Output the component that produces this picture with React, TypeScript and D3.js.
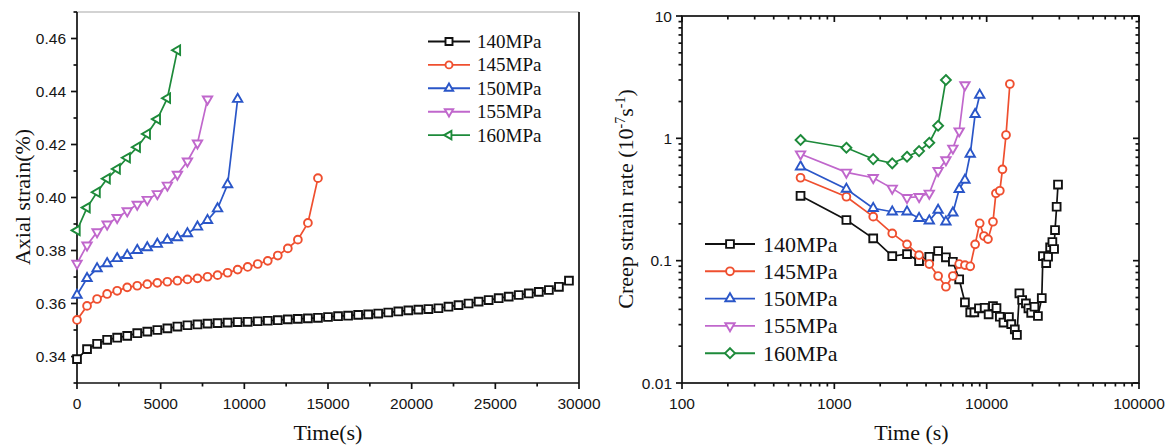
import React from 'react';
import * as d3 from 'd3';

// ---------- Left chart: axial strain vs time ----------
const TIME_S = [0, 600, 1200, 1800, 2400, 3000, 3600, 4200, 4800, 5400, 6000, 6600, 7200, 7800, 8400, 9000, 9600, 10200, 10800, 11400, 12000, 12600, 13200, 13800, 14400, 15000, 15600, 16200, 16800, 17400, 18000, 18600, 19200, 19800, 20400, 21000, 21600, 22200, 22800, 23400, 24000, 24600, 25200, 25800, 26400, 27000, 27600, 28200, 28800, 29400];

const strain140 = [0.3390, 0.3428, 0.3448, 0.3463, 0.3471, 0.3478, 0.3488, 0.3494, 0.3500, 0.3506, 0.3513, 0.3518, 0.3521, 0.3524, 0.3526, 0.3528, 0.3530, 0.3531, 0.3533, 0.3535, 0.3537, 0.3540, 0.3542, 0.3544, 0.3546, 0.3549, 0.3552, 0.3554, 0.3557, 0.3559, 0.3562, 0.3566, 0.3570, 0.3574, 0.3577, 0.3579, 0.3582, 0.3588, 0.3594, 0.3600, 0.3607, 0.3613, 0.3620, 0.3626, 0.3632, 0.3638, 0.3644, 0.3651, 0.3663, 0.3686];
const strain145 = [0.3538, 0.3591, 0.3617, 0.3636, 0.3648, 0.3661, 0.3667, 0.3673, 0.3678, 0.3682, 0.3686, 0.3691, 0.3695, 0.3701, 0.3707, 0.3716, 0.3728, 0.3738, 0.3749, 0.3761, 0.3781, 0.3808, 0.3841, 0.3904, 0.4073];
const strain150 = [0.3632, 0.3695, 0.3732, 0.3751, 0.3770, 0.3782, 0.3801, 0.3811, 0.3824, 0.3839, 0.3849, 0.3864, 0.3889, 0.3914, 0.3958, 0.4049, 0.4371];
const strain155 = [0.3751, 0.3820, 0.3870, 0.3899, 0.3924, 0.3949, 0.3974, 0.3992, 0.4014, 0.4046, 0.4087, 0.4137, 0.4205, 0.4371];
const strain160 = [0.3876, 0.3962, 0.4020, 0.4071, 0.4108, 0.4150, 0.4190, 0.4240, 0.4296, 0.4375, 0.4556];

// ---------- Right chart: creep strain rate vs time (log-log) ----------
const rateTime140 = [600, 1200, 1800, 2400, 3000, 3600, 4200, 4800, 5400, 6000, 6600, 7200, 7800, 8300, 8900, 9700, 10300, 11000, 11600, 12200, 12900, 14000, 14500, 15300, 15800, 16400, 17100, 18100, 18800, 19600, 20600, 21700, 23000, 23400, 24600, 25300, 26100, 27000, 27700, 28100, 28800, 29400];
const rate140 = [0.339, 0.215, 0.152, 0.109, 0.113, 0.0993, 0.1077, 0.120, 0.1065, 0.098, 0.0704, 0.0456, 0.0378, 0.0378, 0.0408, 0.0412, 0.0364, 0.0426, 0.0410, 0.0348, 0.0312, 0.0346, 0.0303, 0.0274, 0.0247, 0.0541, 0.0477, 0.0448, 0.0408, 0.0375, 0.0420, 0.0353, 0.0495, 0.109, 0.0956, 0.1077, 0.1285, 0.142, 0.1245, 0.178, 0.276, 0.419];
const rateTime145 = [600, 1200, 1800, 2400, 3000, 3600, 4200, 4800, 5400, 6000, 6600, 7200, 7800, 8400, 9000, 9600, 10200, 11000, 11500, 12200, 12700, 13400, 14200];
const rate145 = [0.476, 0.333, 0.229, 0.167, 0.136, 0.111, 0.0938, 0.0749, 0.0612, 0.0749, 0.0938, 0.092, 0.0899, 0.136, 0.202, 0.159, 0.150, 0.208, 0.355, 0.373, 0.558, 1.064, 2.78];
const rateTime150 = [600, 1200, 1800, 2400, 3000, 3600, 4200, 4800, 5400, 6000, 6600, 7200, 7800, 8400, 9000];
const rate150 = [0.586, 0.385, 0.268, 0.251, 0.251, 0.222, 0.212, 0.259, 0.208, 0.246, 0.383, 0.456, 0.744, 1.571, 2.26];
const rateTime155 = [600, 1200, 1800, 2400, 3000, 3600, 4200, 4800, 5400, 6000, 6600, 7200];
const rate155 = [0.744, 0.527, 0.476, 0.390, 0.327, 0.333, 0.355, 0.543, 0.665, 0.829, 1.147, 2.73];
const rateTime160 = [600, 1200, 1800, 2400, 3000, 3600, 4200, 4800, 5400];
const rate160 = [0.969, 0.838, 0.677, 0.625, 0.707, 0.787, 0.92, 1.268, 3.0];

const LABELS = ['140MPa', '145MPa', '150MPa', '155MPa', '160MPa'];
const COLORS = ['#111111', '#ef4f2f', '#2a56c8', '#c067cc', '#1d8a3a'];

const leftXTicks = [0, 5000, 10000, 15000, 20000, 25000, 30000];
const leftYTicks = [0.34, 0.36, 0.38, 0.40, 0.42, 0.44, 0.46];
const leftYTickLabels = ['0.34', '0.36', '0.38', '0.40', '0.42', '0.44', '0.46'];
const rightXTicks = [100, 1000, 10000, 100000];
const rightXTickLabels = ['100', '1000', '10000', '100000'];
const rightYTicks = [0.01, 0.1, 1, 10];
const rightYTickLabels = ['0.01', '0.1', '1', '10'];

type Shape = 'square' | 'circle' | 'up' | 'down' | 'left' | 'diamond';

const SANS = '"Liberation Sans", Arial, sans-serif';
const SERIF = '"Liberation Serif", "Times New Roman", serif';

function Marker({ shape, x, y, s, color }: { shape: Shape; x: number; y: number; s: number; color: string }) {
  const common = { fill: '#fff', stroke: color, strokeWidth: 1.9 };
  if (shape === 'circle') return <circle cx={x} cy={y} r={s / 2} {...common} />;
  let d = '';
  const h = s / 2;
  if (shape === 'square') {
    d = `M${-h},${-h}H${h}V${h}H${-h}Z`;
  } else if (shape === 'diamond') {
    const r = s * 0.64;
    d = `M0,${-r}L${r},0L0,${r}L${-r},0Z`;
  } else {
    const w = s * 1.2;
    const ht = w * 0.866;
    const pts: [number, number][] = [[0, (-2 * ht) / 3], [w / 2, ht / 3], [-w / 2, ht / 3]];
    let p = pts;
    if (shape === 'down') p = pts.map(([a, b]) => [a, -b] as [number, number]);
    if (shape === 'left') p = pts.map(([a, b]) => [b, a] as [number, number]);
    d = `M${p[0][0]},${p[0][1]}L${p[1][0]},${p[1][1]}L${p[2][0]},${p[2][1]}Z`;
  }
  return <path d={d} transform={`translate(${x},${y})`} {...common} />;
}

export default function App() {
  const xL = d3.scaleLinear().domain([0, 30000]).range([77, 579]);
  const yL = d3.scaleLinear().domain([0.33, 0.47]).range([383, 12]);
  const xR = d3.scaleLog().domain([100, 100000]).range([682, 1139]);
  const yR = d3.scaleLog().domain([0.01, 10]).range([383, 16]);

  const leftSeries = [
    { vals: strain140, shape: 'square' as Shape },
    { vals: strain145, shape: 'circle' as Shape },
    { vals: strain150, shape: 'up' as Shape },
    { vals: strain155, shape: 'down' as Shape },
    { vals: strain160, shape: 'left' as Shape },
  ];
  const rightSeries = [
    { t: rateTime140, v: rate140, shape: 'square' as Shape },
    { t: rateTime145, v: rate145, shape: 'circle' as Shape },
    { t: rateTime150, v: rate150, shape: 'up' as Shape },
    { t: rateTime155, v: rate155, shape: 'down' as Shape },
    { t: rateTime160, v: rate160, shape: 'diamond' as Shape },
  ];

  const lineL = d3.line<[number, number]>().x((d) => xL(d[0])).y((d) => yL(d[1]));
  const lineR = d3.line<[number, number]>().x((d) => xR(d[0])).y((d) => yR(d[1]));

  const leftXMinor = d3.range(2500, 30000, 5000);
  const leftYMinor = [0.33, 0.35, 0.37, 0.39, 0.41, 0.43, 0.45, 0.47];
  const rightXMinor: number[] = [];
  [100, 1000, 10000].forEach((b) => { for (let k = 2; k <= 9; k++) rightXMinor.push(b * k); });
  const rightYMinor: number[] = [];
  [0.01, 0.1, 1].forEach((b) => { for (let k = 2; k <= 9; k++) rightYMinor.push(b * k); });

  const axisW = 1.7;
  const tickColor = '#151515';

  return (
    <svg width={1170} height={447} style={{ position: 'absolute', left: 0, top: 0, background: '#fff' }}>
      {/* ================= LEFT CHART ================= */}
      <g>
        <line x1={77} y1={12} x2={579} y2={12} stroke="#c4c4c4" strokeWidth={1.5} />
        <line x1={579} y1={12} x2={579} y2={383} stroke="#111" strokeWidth={axisW} />
        <line x1={77} y1={12} x2={77} y2={383} stroke="#111" strokeWidth={axisW} />
        <line x1={77} y1={383} x2={579} y2={383} stroke="#111" strokeWidth={axisW} />
        {leftXTicks.map((t) => (
          <g key={'lx' + t}>
            <line x1={xL(t)} x2={xL(t)} y1={383} y2={389} stroke="#111" strokeWidth={axisW} />
            <text x={xL(t)} y={408.5} textAnchor="middle" fontFamily={SANS} fontSize={15.5} fill={tickColor}>{t}</text>
          </g>
        ))}
        {leftXMinor.map((t) => (
          <line key={'lxm' + t} x1={xL(t)} x2={xL(t)} y1={383} y2={386.5} stroke="#111" strokeWidth={axisW} />
        ))}
        {leftYTicks.map((v, i) => (
          <g key={'ly' + v}>
            <line x1={71} x2={77} y1={yL(v)} y2={yL(v)} stroke="#111" strokeWidth={axisW} />
            <text x={66} y={yL(v) + 5.8} textAnchor="end" fontFamily={SANS} fontSize={15.5} fill={tickColor}>{leftYTickLabels[i]}</text>
          </g>
        ))}
        {leftYMinor.map((v) => (
          <line key={'lym' + v} x1={73.5} x2={77} y1={yL(v)} y2={yL(v)} stroke="#111" strokeWidth={axisW} />
        ))}
        <text transform="translate(30,197) rotate(-90)" textAnchor="middle" fontFamily={SERIF} fontSize={22} fill="#111">Axial strain(%)</text>
        <text x={328} y={440} textAnchor="middle" fontFamily={SERIF} fontSize={22} fill="#111">Time(s)</text>
        {leftSeries.map((s, si) => {
          const pts = s.vals.map((v, i) => [TIME_S[i], v] as [number, number]);
          return (
            <g key={'ls' + si}>
              <path d={lineL(pts) || ''} fill="none" stroke={COLORS[si]} strokeWidth={1.7} />
              {pts.map((p, i) => (
                <Marker key={i} shape={s.shape} x={xL(p[0])} y={yL(p[1])} s={7.8} color={COLORS[si]} />
              ))}
            </g>
          );
        })}
        {LABELS.map((lab, i) => {
          const cy = 41.5 + i * 23.4;
          return (
            <g key={'ll' + lab}>
              <line x1={428} x2={470} y1={cy} y2={cy} stroke={COLORS[i]} strokeWidth={1.9} />
              <Marker shape={leftSeries[i].shape} x={449} y={cy} s={7} color={COLORS[i]} />
              <text x={477} y={cy + 6.5} fontFamily={SERIF} fontSize={19} fill="#111">{lab}</text>
            </g>
          );
        })}
      </g>

      {/* ================= RIGHT CHART ================= */}
      <g>
        <rect x={682} y={16} width={1139 - 682} height={383 - 16} fill="none" stroke="#111" strokeWidth={axisW} />
        {rightXTicks.map((t, i) => (
          <g key={'rx' + t}>
            <line x1={xR(t)} x2={xR(t)} y1={383} y2={389} stroke="#111" strokeWidth={axisW} />
            <line x1={xR(t)} x2={xR(t)} y1={16} y2={22} stroke="#111" strokeWidth={axisW} />
            <text x={xR(t)} y={408.5} textAnchor="middle" fontFamily={SANS} fontSize={15.5} fill={tickColor}>{rightXTickLabels[i]}</text>
          </g>
        ))}
        {rightXMinor.map((t) => (
          <g key={'rxm' + t}>
            <line x1={xR(t)} x2={xR(t)} y1={383} y2={386.5} stroke="#111" strokeWidth={axisW} />
            <line x1={xR(t)} x2={xR(t)} y1={16} y2={19.5} stroke="#111" strokeWidth={axisW} />
          </g>
        ))}
        {rightYTicks.map((v, i) => (
          <g key={'ry' + v}>
            <line x1={676} x2={682} y1={yR(v)} y2={yR(v)} stroke="#111" strokeWidth={axisW} />
            <line x1={1133} x2={1139} y1={yR(v)} y2={yR(v)} stroke="#111" strokeWidth={axisW} />
            <text x={672} y={yR(v) + 5.8} textAnchor="end" fontFamily={SANS} fontSize={15.5} fill={tickColor}>{rightYTickLabels[i]}</text>
          </g>
        ))}
        {rightYMinor.map((v) => (
          <g key={'rym' + v}>
            <line x1={678.5} x2={682} y1={yR(v)} y2={yR(v)} stroke="#111" strokeWidth={axisW} />
            <line x1={1135.5} x2={1139} y1={yR(v)} y2={yR(v)} stroke="#111" strokeWidth={axisW} />
          </g>
        ))}
        <text transform="translate(633,199) rotate(-90)" textAnchor="middle" fontFamily={SERIF} fontSize={22} fill="#111">
          Creep strain rate (10<tspan dy={-8} fontSize={14}>-7</tspan><tspan dy={8} fontSize={22}>s</tspan><tspan dy={-8} fontSize={14}>-1</tspan><tspan dy={8} fontSize={22}>)</tspan>
        </text>
        <text x={911.5} y={440} textAnchor="middle" fontFamily={SERIF} fontSize={22} fill="#111">Time (s)</text>
        {rightSeries.map((s, si) => {
          const pts = s.t.map((t, i) => [t, s.v[i]] as [number, number]);
          return (
            <g key={'rs' + si}>
              <path d={lineR(pts) || ''} fill="none" stroke={COLORS[si]} strokeWidth={1.7} />
              {pts.map((p, i) => (
                <Marker key={i} shape={s.shape} x={xR(p[0])} y={yR(p[1])} s={7.8} color={COLORS[si]} />
              ))}
            </g>
          );
        })}
        {LABELS.map((lab, i) => {
          const cy = 244 + i * 27.3;
          return (
            <g key={'rl' + lab}>
              <line x1={705} x2={755} y1={cy} y2={cy} stroke={COLORS[i]} strokeWidth={1.9} />
              <Marker shape={rightSeries[i].shape} x={730} y={cy} s={7.8} color={COLORS[i]} />
              <text x={763} y={cy + 7.5} fontFamily={SERIF} fontSize={22} fill="#111">{lab}</text>
            </g>
          );
        })}
      </g>
    </svg>
  );
}
